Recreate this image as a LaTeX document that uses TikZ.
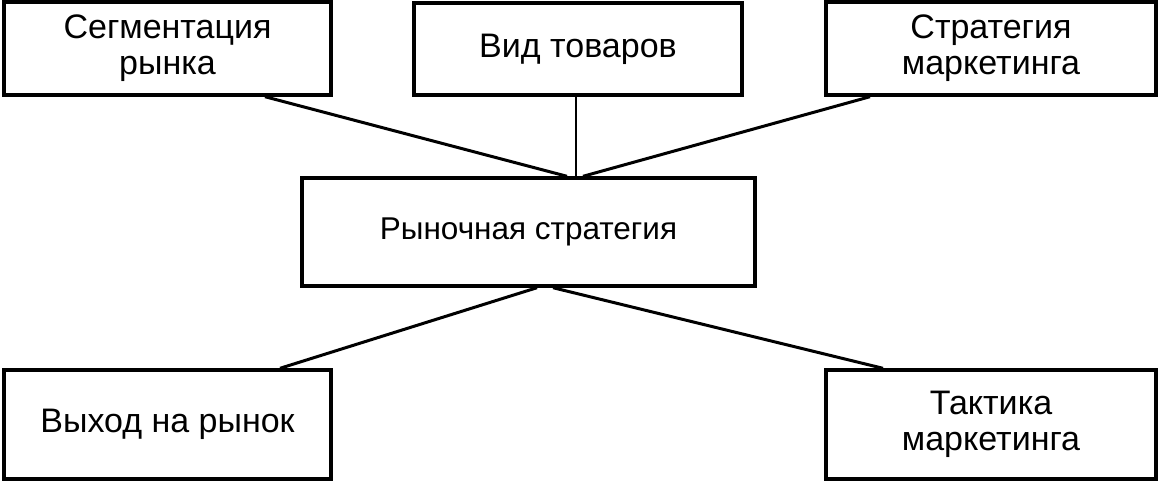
\documentclass[tikz,border=0pt]{standalone}
\usepackage{fontspec}
\setmainfont{Liberation Sans}
\begin{document}
\begin{tikzpicture}[x=1pt,y=-1pt,
  box/.style={draw,line width=3.4pt,inner sep=0pt,align=center,
    font=\fontsize{34}{36}\selectfont},
  link/.style={line width=3pt},
  thin/.style={line width=1.2pt}]
\useasboundingbox (0,0) rectangle (1158,482);
\node[box,minimum width=327pt,minimum height=93pt] (seg) at (167.5,48.5) {Сегментация\\рынка};
\node[box,minimum width=328pt,minimum height=92pt] (vid) at (578,49) {Вид товаров};
\node[box,minimum width=330pt,minimum height=93pt] (str) at (991,48.5) {Стратегия\\маркетинга};
\node[box,minimum width=453pt,minimum height=108pt,font=\fontsize{31.5}{36}\selectfont] (ryn) at (528.5,232) {Рыночная стратегия};
\node[box,minimum width=327pt,minimum height=109pt] (vyh) at (167.5,424.5) {Выход на рынок};
\node[box,minimum width=330pt,minimum height=109pt] (tak) at (991,424.5) {Тактика\\маркетинга};
\draw[link] ([xshift=97.5pt]seg.south) -- ([xshift=38.5pt]ryn.north);
\draw[link] ([xshift=-121pt]str.south) -- ([xshift=54.5pt]ryn.north);
\draw[thin] ([xshift=-2pt]vid.south) -- ([xshift=47.5pt]ryn.north);
\draw[link] ([xshift=8.5pt]ryn.south) -- ([xshift=112.5pt]vyh.north);
\draw[link] ([xshift=24.5pt]ryn.south) -- ([xshift=-108pt]tak.north);
\end{tikzpicture}
\end{document}
